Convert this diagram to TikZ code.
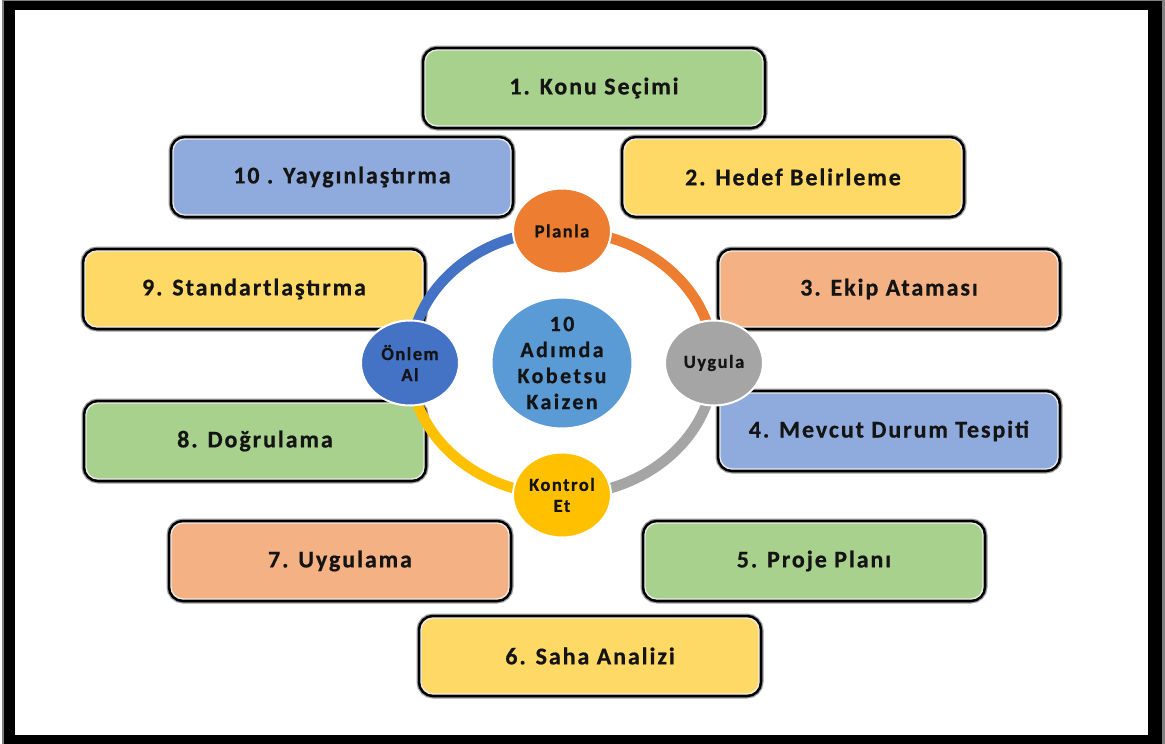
\documentclass[tikz,border=0pt]{standalone}
\usepackage{fontspec}
\setmainfont{Carlito}
\newfontfamily\lblfont{Carlito}[LetterSpace=8, FakeBold=0.6]
\newfontfamily\corefont{Carlito}[LetterSpace=11, FakeBold=0.6]
\usetikzlibrary{shapes.geometric}

\definecolor{cgreen}{HTML}{A9D18E}
\definecolor{cyellow}{HTML}{FFD966}
\definecolor{cblue}{HTML}{8FAADC}
\definecolor{corange}{HTML}{F4B183}
\definecolor{planc}{HTML}{ED7D31}
\definecolor{doc}{HTML}{A5A5A5}
\definecolor{checkc}{HTML}{FFC000}
\definecolor{actc}{HTML}{4472C4}
\definecolor{corec}{HTML}{5B9BD5}
\definecolor{inkc}{HTML}{141414}

\pgfdeclarelayer{boxes}
\pgfdeclarelayer{ringl}
\pgfsetlayers{boxes,ringl,main}

\begin{document}
\begin{tikzpicture}[x=1pt,y=-1pt,
  stepbox/.style={rounded corners=12pt, minimum width=338pt, minimum height=76pt,
    inner sep=0pt, fill=#1, draw=white!85!gray, line width=1.3pt,
    preaction={draw=black!40, line width=9pt},
    preaction={draw=black, line width=6.5pt},
    text=inkc, font=\lblfont\bfseries\fontsize{24}{28}\selectfont},
  phase/.style={ellipse, minimum width=98pt, minimum height=85pt, inner sep=0pt,
    fill=#1, draw=white, line width=2pt, align=center, text=inkc,
    font=\lblfont\bfseries\fontsize{18.5}{21}\selectfont},
  ringarc/.style={line width=10.5pt, draw=#1},
]
\useasboundingbox (0,0) rectangle (1165,744);

% page frame
\begin{pgfonlayer}{boxes}
\fill[white] (0,0) rectangle (1165,744);
\fill[black!50] (2,0) rectangle (1165,744);
\fill[black] (4,1) rectangle (1162,744);
\fill[white] (15,10) rectangle (1148,735);

% the ten steps
\node[stepbox=cgreen]  (s1)  at (594,88)  {1. Konu Seçimi};
\node[stepbox=cyellow] (s2)  at (793,177) {2. Hedef Belirleme};
\node[stepbox=corange] (s3)  at (889,289) {3. Ekip Ataması};
\node[stepbox=cblue]   (s4)  at (889,431) {4. Mevcut Durum Tespiti};
\node[stepbox=cgreen]  (s5)  at (814,561) {5. Proje Planı};
\node[stepbox=cyellow] (s6)  at (590,656) {6. Saha Analizi};
\node[stepbox=corange] (s7)  at (340,561) {7. Uygulama};
\node[stepbox=cgreen]  (s8)  at (255,441) {8. Doğrulama};
\node[stepbox=cyellow] (s9)  at (254,289) {9. Standartlaştırma};
\node[stepbox=cblue]   (s10) at (342,177) {10 . Yaygınlaştırma};
\end{pgfonlayer}

% PDCA cycle
\node[phase=corec, minimum width=141pt, minimum height=122pt,
      font=\corefont\bfseries\fontsize{22}{26}\selectfont] (core) at (562,363)
      {10\\Adımda\\Kobetsu\\Kaizen};
\node[phase=planc]  (plan)  at (562,231) {Planla};
\node[phase=doc]    (doit)  at (714,363) {Uygula};
\node[phase=checkc] (check) at (562,495) {Kontrol\\Et};
\node[phase=actc]   (act)   at (410,363) {Önlem\\Al};

\begin{pgfonlayer}{ringl}
\draw[ringarc=planc]  (plan.center)  arc[start angle=270, end angle=360, x radius=152, y radius=132];
\draw[ringarc=doc]    (doit.center)  arc[start angle=0,   end angle=90,  x radius=152, y radius=132];
\draw[ringarc=checkc] (check.center) arc[start angle=90,  end angle=180, x radius=152, y radius=132];
\draw[ringarc=actc]   (act.center)   arc[start angle=180, end angle=270, x radius=152, y radius=132];
\end{pgfonlayer}
\end{tikzpicture}
\end{document}
